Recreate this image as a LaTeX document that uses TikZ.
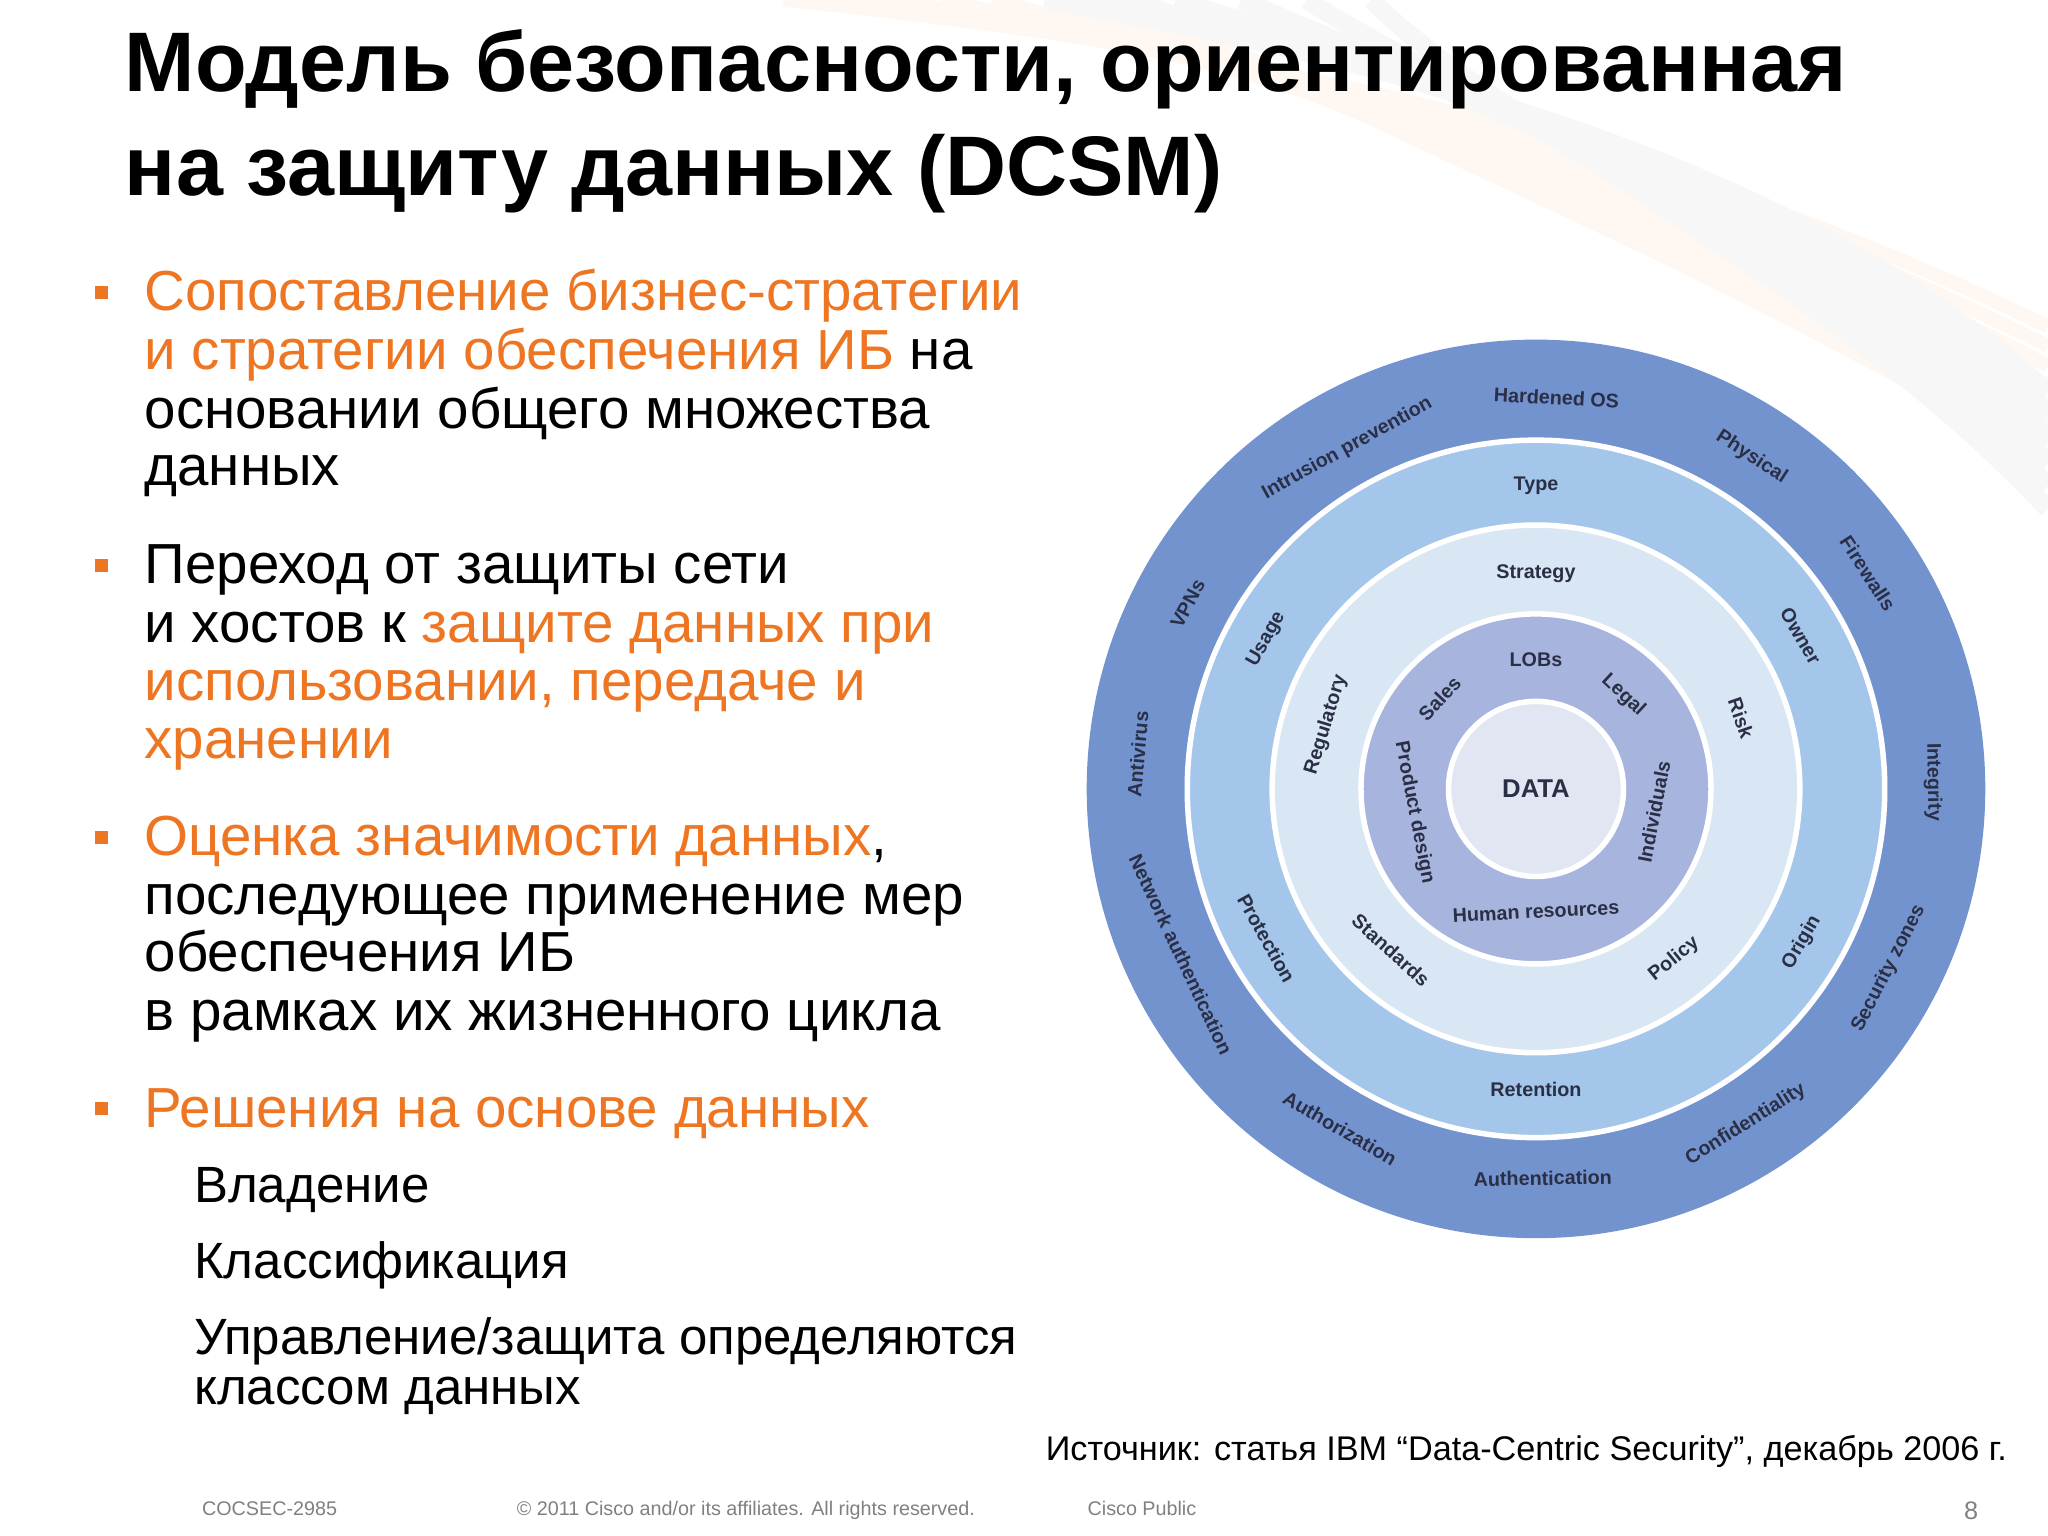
\documentclass[tikz,border=0pt]{standalone}
\usepackage{fontspec}
\setmainfont{Liberation Sans}
\definecolor{org}{HTML}{EE7623}
\definecolor{ringA}{HTML}{7393CF}
\definecolor{ringB}{HTML}{A3C6EA}
\definecolor{ringC}{HTML}{D9E6F4}
\definecolor{ringD}{HTML}{A7B5DE}
\definecolor{ringE}{HTML}{E2E6F3}
\definecolor{rtxt}{HTML}{2A2F45}
\begin{document}
\begin{tikzpicture}[x=0.01cm,y=-0.01cm,
  ttl/.style={anchor=base west,inner sep=0,font=\fontsize{18.4}{20}\selectfont\bfseries},
  body/.style={anchor=base west,inner sep=0,font=\fontsize{12.3}{13}\selectfont},
  sub/.style={anchor=base west,inner sep=0,font=\fontsize{11.1}{12}\selectfont},
  foot/.style={anchor=base west,inner sep=0,font=\fontsize{4.3}{5}\selectfont,text=gray},
  bul/.style={fill=org,minimum size=0.1cm,inner sep=0},
  rlab/.style={inner sep=0,text=rtxt,font=\fontsize{4.3}{5}\selectfont\bfseries},
  ring/.style={draw=white,line width=1.2pt}]
\useasboundingbox (0,0) rectangle (1568,1176);
% faint swoosh
\foreach \i in {0,...,7}{
  \draw[org!6,line width=3pt] (600+40*\i,0) .. controls (1000,40+6*\i) and (1300,120+10*\i) .. (1568,250+15*\i);
}
\foreach \i in {0,...,5}{
  \draw[gray!6,line width=4pt] (800+50*\i,0) .. controls (1150,60+8*\i) and (1400,150+12*\i) .. (1568,300+18*\i);
}
% title
\node[ttl] (t1) at (95,70) {Модель безопасности, ориентированная};
\node[ttl] (t2) at (95,150) {на защиту данных (DCSM)};
% bullets
\node[bul] (b1) at (78,224) {};
\node[body,text=org] (l11) at (110,238) {Сопоставление бизнес-стратегии};
\node[body] (l12) at (110,283) {\textcolor{org}{и стратегии обеспечения ИБ} на};
\node[body] (l13) at (110,328) {основании общего множества};
\node[body] (l14) at (110,372) {данных};
\node[bul] (b2) at (78,433) {};
\node[body] (l21) at (110,447) {Переход от защиты сети};
\node[body] (l22) at (110,492) {и хостов к \textcolor{org}{защите данных при}};
\node[body,text=org] (l23) at (110,536) {использовании, передаче и};
\node[body,text=org] (l24) at (110,581) {хранении};
\node[bul] (b3) at (78,641) {};
\node[body] (l31) at (110,655) {\textcolor{org}{Оценка значимости данных},};
\node[body] (l32) at (110,700) {последующее применение мер};
\node[body] (l33) at (110,744) {обеспечения ИБ};
\node[body] (l34) at (110,789) {в рамках их жизненного цикла};
\node[bul] (b4) at (78,849) {};
\node[body,text=org] (l41) at (110,863) {Решения на основе данных};
\node[sub] (s1) at (148,921) {Владение};
\node[sub] (s2) at (148,979) {Классификация};
\node[sub] (s3) at (148,1037) {Управление/защита определяются};
\node[sub] (s4) at (148,1075) {классом данных};
\node[anchor=base west,inner sep=0,font=\fontsize{7.45}{8}\selectfont] (src) at (800,1118) {Источник: статья IBM “Data-Centric Security”, декабрь 2006 г.};
\node[foot] (f1) at (154,1160) {COCSEC-2985};
\node[foot] (f2) at (395,1160) {© 2011 Cisco and/or its affiliates. All rights reserved.};
\node[foot] (f3) at (832,1160) {Cisco Public};
\node[foot,font=\fontsize{5.5}{6}\selectfont] (f4) at (1503,1163) {8};
% rings
\coordinate (c) at (1176,604);
\fill[ringA] (c) circle (344);
\fill[ringB] (c) circle (267);
\draw[ring] (c) circle (267);
\fill[ringC] (c) circle (202);
\draw[ring] (c) circle (202);
\fill[ringD] (c) circle (134);
\draw[ring] (c) circle (134);
\fill[ringE] (c) circle (67);
\draw[ring] (c) circle (67);
\node[inner sep=0,text=rtxt,font=\fontsize{5.6}{6}\selectfont\bfseries] (data) at (c) {DATA};
\newcommand{\rl}[5]{\node[rlab,rotate=#3] (#5) at ({1176+#2*cos(#1)},{604-#2*sin(#1)}) {#4};}
\rl{87}{300}{-3}{Hardened OS}{o1}
\rl{57}{303}{-33}{Physical}{o2}
\rl{33}{303}{-57}{Firewalls}{o3}
\rl{1}{304}{-89}{Integrity}{o4}
\rl{-27}{303}{63}{Security zones}{o5}
\rl{-58}{303}{32}{Confidentiality}{o6}
\rl{-89}{298}{1}{Authentication}{o7}
\rl{-120}{300}{-30}{Authorization}{o8}
\rl{-155}{300}{-65}{Network authentication}{o9}
\rl{175}{306}{85}{Antivirus}{o10}
\rl{152}{302}{62}{VPNs}{o11}
\rl{119}{298}{29}{Intrusion prevention}{o12}
\rl{90}{232}{0}{Type}{r1}
\rl{30}{234}{-60}{Owner}{r2}
\rl{-30}{235}{60}{Origin}{r3}
\rl{-90}{230}{0}{Retention}{r4}
\rl{-151}{236}{-61}{Protection}{r5}
\rl{151}{236}{61}{Usage}{r6}
\rl{90}{165}{0}{Strategy}{s1r}
\rl{19}{166}{-71}{Risk}{s2r}
\rl{-51}{168}{39}{Policy}{s3r}
\rl{-132}{166}{-42}{Standards}{s4r}
\rl{163}{168}{73}{Regulatory}{s5r}
\rl{90}{99}{0}{LOBs}{d1}
\rl{47}{98}{-43}{Legal}{d2}
\rl{-11}{92}{79}{Individuals}{d3}
\rl{-90}{94}{3}{Human resources}{d4}
\rl{-169}{95}{-79}{Product design}{d5}
\rl{137}{101}{47}{Sales}{d6}
\end{tikzpicture}
\end{document}
